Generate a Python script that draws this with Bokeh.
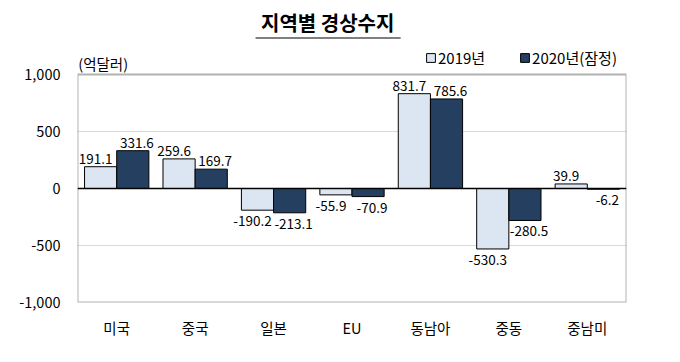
from bokeh.plotting import figure
from bokeh.models import (ColumnDataSource, FactorRange, Range1d, Span, Label, LabelSet,
                          Legend, LegendItem, FixedTicker, NumeralTickFormatter, BoxAnnotation)
from bokeh.core.properties import value
from bokeh.transform import dodge
from bokeh.embed import file_html
from bokeh.resources import INLINE

regions = ["미국", "중국", "일본", "EU", "동남아", "중동", "중남미"]
v2019 = [191.1, 259.6, -190.2, -55.9, 831.7, -530.3, 39.9]
v2020 = [331.6, 169.7, -213.1, -70.9, 785.6, -280.5, -6.2]
series_names = ["2019년", "2020년(잠정)"]
y_ticks = [-1000, -500, 0, 500, 1000]
title_text = "지역별 경상수지"
unit_text = "(억달러)"

FONT = "Noto Sans CJK KR"
C19 = "#DCE6F2"
C20 = "#243F60"

# frame spans from canvas top to chart-box bottom; the chart box is -1000..1000
Y_TOP = 1000 + 74 / 0.114

p = figure(width=680, height=362, output_backend="svg", toolbar_location=None,
           x_range=FactorRange(*regions, range_padding=0), y_range=Range1d(-1000, Y_TOP),
           min_border_left=77, min_border_right=54, min_border_top=0, min_border_bottom=60)
p.background_fill_color = "white"
p.border_fill_color = "white"
p.outline_line_color = None

src = ColumnDataSource(dict(cat=regions, a=v2019, b=v2020))
w = 0.41
r19 = p.vbar(x=dodge("cat", -w / 2, range=p.x_range), top="a", bottom=0, width=w, source=src,
             fill_color=C19, line_color="black", line_width=1)
r20 = p.vbar(x=dodge("cat", w / 2, range=p.x_range), top="b", bottom=0, width=w, source=src,
             fill_color=C20, line_color="black", line_width=1)

p.add_layout(Span(location=0, dimension="width", line_color="black", line_width=1.5))
p.add_layout(BoxAnnotation(top=1000, bottom=-1000, fill_alpha=0, line_color="black",
                           line_width=2))

# value labels
def add_labels(vals, off, xoff):
    pos = [(c, v) for c, v in zip(regions, vals) if v >= 0]
    neg = [(c, v) for c, v in zip(regions, vals) if v < 0]
    for data, base, yoff in ((pos, "bottom", 3), (neg, "top", -6)):
        s = ColumnDataSource(dict(cat=[d[0] for d in data], v=[d[1] for d in data],
                                  t=[f"{d[1]:.1f}" for d in data]))
        p.add_layout(LabelSet(x=dodge("cat", off, range=p.x_range), y="v", text="t", source=s,
                              text_align="center", text_baseline=base, y_offset=yoff,
                              x_offset=xoff,
                              text_font=value(FONT), text_font_size="13.5px",
                              text_color="black"))

add_labels(v2019, -w / 2, -5)
add_labels(v2020, w / 2, 4)

# axes
p.yaxis.ticker = FixedTicker(ticks=y_ticks)
p.yaxis.formatter = NumeralTickFormatter(format="0,0")
p.yaxis.axis_line_color = None
p.yaxis.major_tick_line_color = None
p.yaxis.minor_tick_line_color = None
p.yaxis.major_tick_out = 0
p.yaxis.major_label_standoff = 17
p.yaxis.major_label_text_font = FONT
p.yaxis.major_label_text_font_size = "14.5px"
p.yaxis.major_label_text_color = "black"

p.xaxis.axis_line_color = None
p.xaxis.major_tick_line_color = None
p.xaxis.major_tick_out = 0
p.xaxis.major_label_standoff = 14
p.xaxis.major_label_text_font = FONT
p.xaxis.major_label_text_font_size = "14.5px"
p.xaxis.major_label_text_color = "black"

p.xgrid.grid_line_color = None
p.ygrid.ticker = FixedTicker(ticks=[-500, 500])
p.ygrid.grid_line_color = "#D9D9D9"
p.ygrid.grid_line_width = 1

# title & unit
p.add_layout(Label(x=3.19, y=1456, text=title_text, text_align="center", text_baseline="middle",
                   text_font=FONT, text_font_size="20px", text_font_style="bold", text_color="black"))
p.add_layout(BoxAnnotation(left=2.27, right=4.12, top=1329, bottom=1311,
                           fill_color="#7F7F7F", fill_alpha=1, line_alpha=0))
p.add_layout(Label(x=0.01, y=1096, text=unit_text, text_align="left", text_baseline="middle",
                   text_font=FONT, text_font_size="14.5px", text_color="black"))

legend = Legend(items=[LegendItem(label=series_names[0], renderers=[r19]),
                       LegendItem(label=series_names[1], renderers=[r20])],
                orientation="horizontal", location=(348, 234), padding=0, margin=0,
                spacing=34, glyph_width=11, glyph_height=11, label_standoff=2,
                label_text_font=FONT, label_text_font_size="15px", label_text_color="black",
                border_line_color=None, background_fill_alpha=0)
p.add_layout(legend, "center")

open("out.html", "w").write(file_html(p, INLINE))
